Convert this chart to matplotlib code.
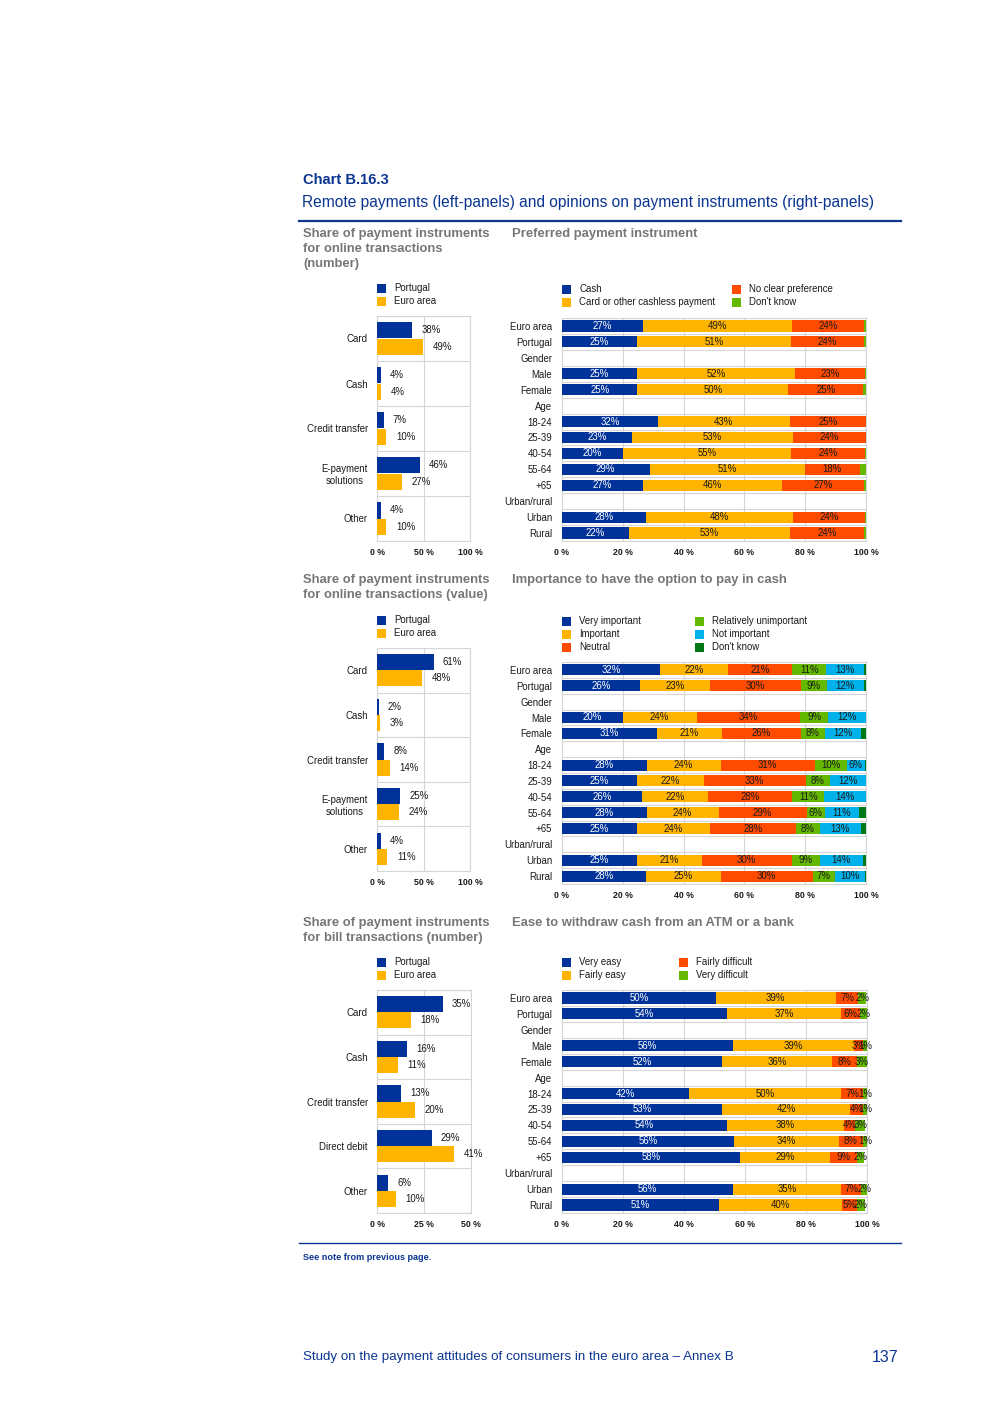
import matplotlib
matplotlib.use('Agg')
import matplotlib.pyplot as plt
from matplotlib.patches import Rectangle
import numpy as np

plt.rcParams['font.family'] = ['Liberation Sans', 'DejaVu Sans']

W, H = 992, 1403

BLUE = '#003299'
YELLOW = '#ffb400'
ORANGE = '#ff4b00'
GREEN = '#65b800'
CYAN = '#00b1ea'
DKGREEN = '#007816'
NAVY = '#0b3590'
GREY_TITLE = '#767676'
GRID = '#d6d6d6'
TXT = '#1a1a1a'
FS = 6.9

# ---- left panels: shares of payment instruments (%) ----
online_cats = ['Card', 'Cash', 'Credit transfer', 'E-payment\nsolutions', 'Other']
online_number_pt = [38, 4, 7, 46, 4]
online_number_ea = [49, 4, 10, 27, 10]
online_value_pt = [61, 2, 8, 25, 4]
online_value_ea = [48, 3, 14, 24, 11]
bill_cats = ['Card', 'Cash', 'Credit transfer', 'Direct debit', 'Other']
bill_number_pt = [35, 16, 13, 29, 6]
bill_number_ea = [18, 11, 20, 41, 10]

# ---- right panels: opinions by group (%) ; None = group header row ----
rows = ['Euro area', 'Portugal', 'Gender', 'Male', 'Female', 'Age', '18-24', '25-39',
        '40-54', '55-64', '+65', 'Urban/rural', 'Urban', 'Rural']

pref_labels = ['Cash', 'Card or other cashless payment', 'No clear preference', "Don't know"]
pref_cash = [26.6, 24.6, None, 24.6, 24.8, None, 31.6, 23.0, 20.0, 28.8, 26.6, None, 27.7, 21.9]
pref_card = [49.2, 50.7, None, 52.2, 49.7, None, 43.3, 53.0, 55.4, 51.2, 45.8, None, 48.4, 53.2]
pref_none = [23.7, 24.2, None, 23.0, 24.6, None, 25.1, 24.0, 24.4, 17.9, 27.1, None, 23.6, 24.4]
pref_dk = [0.5, 0.5, None, 0.2, 0.9, None, 0.0, 0.0, 0.2, 2.1, 0.5, None, 0.3, 0.5]

imp_labels = ['Very important', 'Important', 'Neutral',
              'Relatively unimportant', 'Not important', "Don't know"]
imp_very = [32.4, 25.8, None, 20.0, 31.1, None, 27.8, 24.6, 26.2, 27.8, 24.6, None, 24.6, 27.5]
imp_imp = [22.1, 22.8, None, 24.3, 21.4, None, 24.4, 22.1, 21.8, 23.7, 24.0, None, 21.3, 24.7]
imp_neutral = [21.3, 30.0, None, 34.1, 26.0, None, 31.0, 33.4, 27.7, 29.0, 28.3, None, 29.7, 30.3]
imp_rel = [11.0, 8.6, None, 9.1, 7.9, None, 10.4, 7.9, 10.6, 6.0, 7.9, None, 9.2, 7.3]
imp_not = [12.7, 12.0, None, 12.4, 12.0, None, 6.0, 12.0, 13.6, 11.2, 13.4, None, 14.2, 9.9]
imp_dk = [0.5, 0.8, None, 0.1, 1.6, None, 0.4, 0.0, 0.1, 2.3, 1.8, None, 1.0, 0.3]

ease_labels = ['Very easy', 'Fairly easy', 'Fairly difficult', 'Very difficult']
ease_very = [50.4, 54.2, None, 56.2, 52.4, None, 41.6, 52.6, 54.2, 56.4, 58.4, None, 56.2, 51.4]
ease_fairly = [39.4, 37.4, None, 39.4, 36.2, None, 50.0, 41.9, 38.3, 34.4, 29.4, None, 35.3, 40.4]
ease_fdiff = [7.4, 6.0, None, 3.1, 8.2, None, 7.0, 4.1, 3.6, 7.8, 9.0, None, 6.6, 5.0]
ease_vdiff = [2.4, 2.4, None, 1.3, 3.2, None, 1.4, 1.4, 3.4, 1.4, 2.2, None, 1.9, 2.4]


fig = plt.figure(figsize=(W / 100, H / 100), dpi=100)
page = fig.add_axes([0, 0, 1, 1])
page.set_xlim(0, W)
page.set_ylim(H, 0)
page.axis('off')


def px_axes(x0, y0, x1, y1):
    return fig.add_axes([x0 / W, 1 - y1 / H, (x1 - x0) / W, (y1 - y0) / H])


def style_axes(ax, n, ticks):
    ax.set_ylim(n - 0.5, -0.5)
    ax.set_xticks(ticks)
    ax.set_xticklabels([f'{t} %' for t in ticks], fontsize=6.3, fontweight='bold', color=TXT)
    ax.set_yticks(np.arange(n + 1) - 0.5, minor=True)
    ax.grid(axis='y', which='minor', color=GRID, lw=0.8, zorder=0)
    ax.grid(axis='x', which='major', color=GRID, lw=0.8, zorder=0)
    ax.tick_params(which='both', length=0)
    ax.tick_params(axis='x', pad=5)
    for s in ax.spines.values():
        s.set_color(GRID)
        s.set_linewidth(0.8)


def legend(entries):
    for x, y, col, txt in entries:
        page.add_patch(Rectangle((x, y - 4.5), 9, 9, color=col, lw=0))
        page.text(x + 17, y, txt, fontsize=FS, color=TXT, va='center', ha='left')


def grouped_panel(box, cats, pt, ea, xmax, ticks):
    ax = px_axes(*box)
    y = np.arange(len(cats))
    h = 0.36
    ax.barh(y - h / 2, pt, height=h, color=BLUE, zorder=3)
    ax.barh(y + h / 2, ea, height=h, color=YELLOW, zorder=3)
    for i in range(len(cats)):
        ax.annotate(f'{pt[i]}%', (pt[i], y[i] - h / 2), xytext=(6.5, 0), textcoords='offset points',
                    va='center', ha='left', fontsize=FS, color=TXT, zorder=4, annotation_clip=False)
        ax.annotate(f'{ea[i]}%', (ea[i], y[i] + h / 2), xytext=(7, 0), textcoords='offset points',
                    va='center', ha='left', fontsize=FS, color=TXT, zorder=4, annotation_clip=False)
    ax.set_xlim(0, xmax)
    ax.set_yticks(y)
    ax.set_yticklabels(cats, fontsize=FS, color=TXT, multialignment='center')
    ax.tick_params(axis='y', pad=6.5)
    style_axes(ax, len(cats), ticks)
    return ax


def stacked_panel(box, series, colors, min_label):
    ax = px_axes(*box)
    y = np.arange(len(rows))
    left = np.zeros(len(rows))
    for vals, col in zip(series, colors):
        v = np.array([np.nan if a is None else a for a in vals], float)
        m = ~np.isnan(v)
        ax.barh(y[m], v[m], left=left[m], height=0.7, color=col, zorder=3)
        for i in np.where(m)[0]:
            if v[i] >= min_label:
                ax.text(left[i] + v[i] / 2, y[i], f'{v[i]:.0f}%', ha='center', va='center',
                        fontsize=FS, color='white' if col == BLUE else TXT, zorder=4)
        left[m] += v[m]
    ax.set_xlim(0, 100)
    ax.set_yticks(y)
    ax.set_yticklabels(rows, fontsize=FS, color=TXT)
    ax.tick_params(axis='y', pad=7)
    style_axes(ax, len(rows), [0, 20, 40, 60, 80, 100])
    return ax


# header
page.text(303, 180, 'Chart B.16.3', fontsize=10.6, fontweight='bold', color=NAVY, va='center')
page.text(302, 203, 'Remote payments (left-panels) and opinions on payment instruments (right-panels)',
          fontsize=11.2, color=NAVY, va='center')
page.plot([299, 901], [221, 221], color=NAVY, lw=1.6)


def section_title(x, y, lines):
    for k, line in enumerate(lines):
        page.text(x, y + 15 * k, line, fontsize=9.4, fontweight='bold', color=GREY_TITLE, va='center')


section_title(303, 234, ['Share of payment instruments', 'for online transactions', '(number)'])
section_title(512, 234, ['Preferred payment instrument'])
section_title(303, 580, ['Share of payment instruments', 'for online transactions (value)'])
section_title(512, 580, ['Importance to have the option to pay in cash'])
section_title(303, 923, ['Share of payment instruments', 'for bill transactions (number)'])
section_title(512, 923, ['Ease to withdraw cash from an ATM or a bank'])

# left panels
for y0, box, cats, pt, ea, xmax, ticks in [
        (288, (377, 316, 470, 541), online_cats, online_number_pt, online_number_ea, 100, [0, 50, 100]),
        (620, (377, 648, 470, 871), online_cats, online_value_pt, online_value_ea, 100, [0, 50, 100]),
        (962, (377, 990, 471, 1213), bill_cats, bill_number_pt, bill_number_ea, 50, [0, 25, 50])]:
    legend([(377, y0, BLUE, 'Portugal'), (377, y0 + 13, YELLOW, 'Euro area')])
    grouped_panel(box, cats, pt, ea, xmax, ticks)

# right panels
pref_cols = [BLUE, YELLOW, ORANGE, GREEN]
legend([(562, 289, pref_cols[0], pref_labels[0]), (562, 302, pref_cols[1], pref_labels[1]),
        (732, 289, pref_cols[2], pref_labels[2]), (732, 302, pref_cols[3], pref_labels[3])])
stacked_panel((562, 318, 866, 541), [pref_cash, pref_card, pref_none, pref_dk], pref_cols, 3)

imp_cols = [BLUE, YELLOW, ORANGE, GREEN, CYAN, DKGREEN]
legend([(562, 621, imp_cols[0], imp_labels[0]), (562, 634, imp_cols[1], imp_labels[1]),
        (562, 647, imp_cols[2], imp_labels[2]), (695, 621, imp_cols[3], imp_labels[3]),
        (695, 634, imp_cols[4], imp_labels[4]), (695, 647, imp_cols[5], imp_labels[5])])
stacked_panel((562, 662, 866, 884), [imp_very, imp_imp, imp_neutral, imp_rel, imp_not, imp_dk], imp_cols, 3)

ease_cols = [BLUE, YELLOW, ORANGE, GREEN]
legend([(562, 962, ease_cols[0], ease_labels[0]), (562, 975, ease_cols[1], ease_labels[1]),
        (679, 962, ease_cols[2], ease_labels[2]), (679, 975, ease_cols[3], ease_labels[3])])
stacked_panel((562, 990, 867, 1213), [ease_very, ease_fairly, ease_fdiff, ease_vdiff], ease_cols, 0.5)

# footer
page.plot([299, 901], [1243, 1243], color=NAVY, lw=1.0)
page.text(303, 1258, 'See note from previous page.', fontsize=6.6, fontweight='bold', color=NAVY, va='center')
page.text(303, 1357, 'Study on the payment attitudes of consumers in the euro area \u2013 Annex B',
          fontsize=9.6, color=NAVY, va='center', family=['Liberation Sans Narrow', 'Liberation Sans'])
page.text(898, 1357, '137', fontsize=11.5, color=NAVY, va='center', ha='right',
          family=['Liberation Sans Narrow', 'Liberation Sans'])

fig.savefig('out.png', dpi=100)
